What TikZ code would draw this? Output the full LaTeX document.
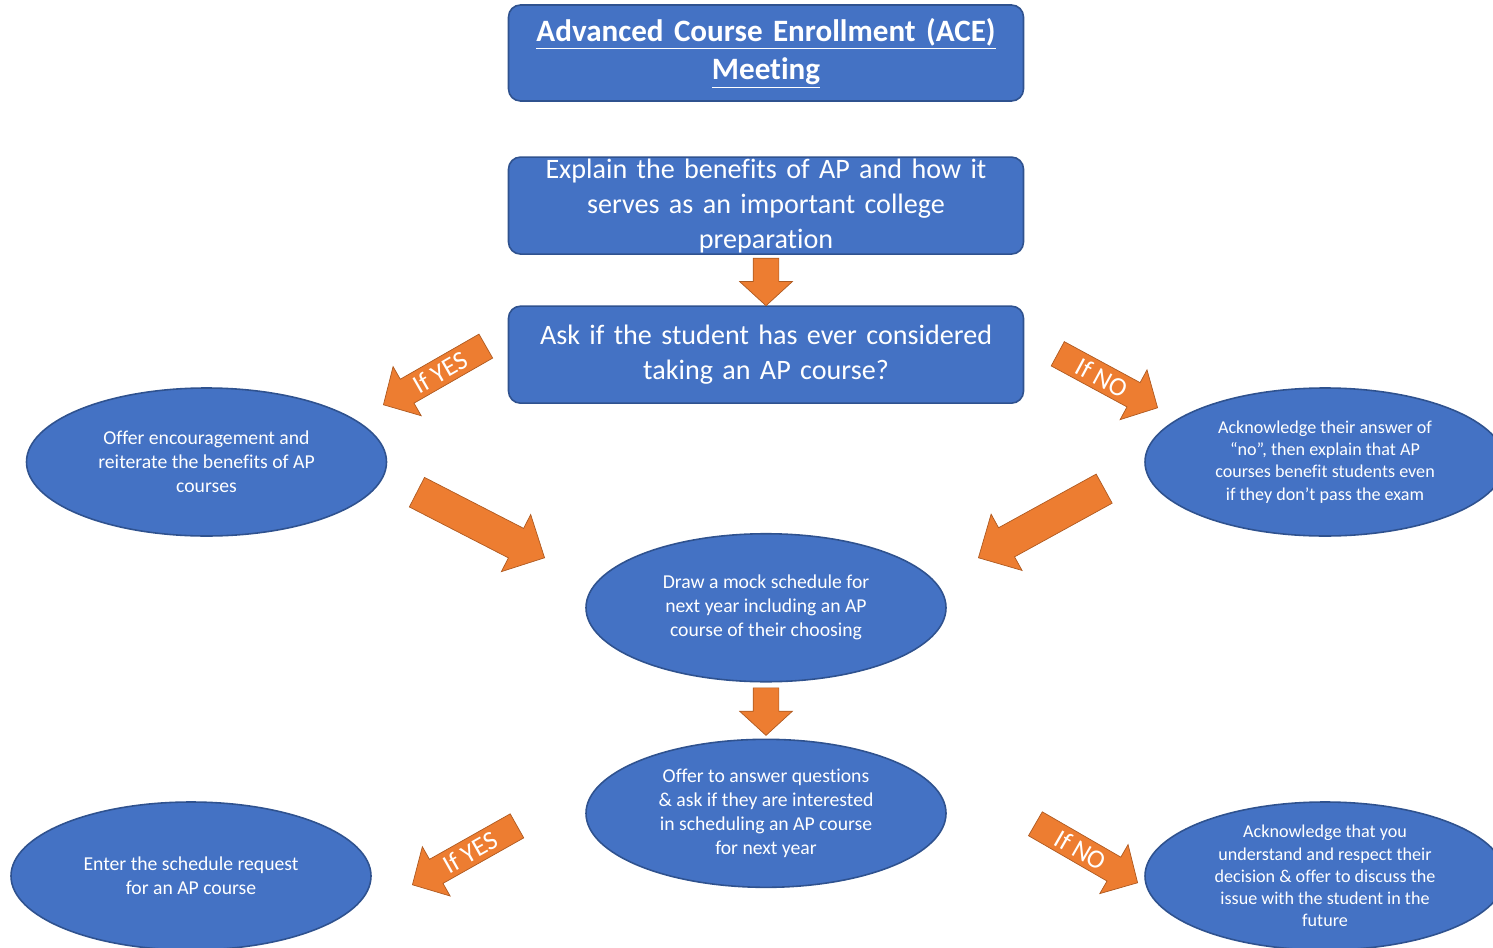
\documentclass[tikz,border=0pt]{standalone}
\usepackage{fontspec}
\setmainfont{Carlito}[Ligatures={NoCommon,NoRequired,NoContextual},Contextuals=NoAlternate,RawFeature={-liga;-clig;-calt}]
\usepackage{xcolor}
\usepackage{tikz}
\usetikzlibrary{shapes.geometric,shapes.arrows,positioning}

\definecolor{boxblue}{HTML}{4472C4}
\definecolor{boxline}{HTML}{2F528F}
\definecolor{arroworange}{HTML}{ED7D31}
\definecolor{arrowline}{HTML}{AE5A21}

\tikzstyle{box} = [rectangle, rounded corners=0.24cm, minimum width=10.3cm, minimum height=1.94cm, inner sep=0pt, text width=10cm, align=center, draw=boxline, line width=0.9pt, fill=boxblue, text=white, font=\fontsize{16}{19.9}\selectfont]
\tikzstyle{bubble} = [ellipse, minimum width=7.2cm, minimum height=2.96cm, inner sep=0pt, align=center, draw=boxline, line width=0.9pt, fill=boxblue, text=white, font=\fontsize{11.2}{13.7}\selectfont]
\tikzstyle{smallbubble} = [bubble, font=\fontsize{10.3}{12.6}\selectfont]
\tikzstyle{hint} = [single arrow, single arrow head extend=0.29cm, single arrow tip angle=92, minimum height=2.36cm, inner xsep=1pt, inner ysep=2.4pt, text height=10.5pt, text depth=0pt, draw=arrowline, line width=0.4pt, fill=arroworange, text=white, font=\fontsize{15}{17}\selectfont]
\tikzstyle{bigarrow} = [single arrow, single arrow head extend=0.31cm, single arrow tip angle=90, minimum height=2.87cm, inner xsep=0pt, inner ysep=0.325cm, draw=arrowline, line width=0.4pt, fill=arroworange]
\tikzstyle{downarrow} = [single arrow, shape border rotate=270, single arrow head extend=0.27cm, single arrow tip angle=95, minimum height=0.95cm, inner xsep=0.25cm, inner ysep=0pt, draw=arrowline, line width=0.4pt, fill=arroworange]

\begin{document}
\begin{tikzpicture}

    \useasboundingbox (0,0) rectangle (29.86,-18.94);

    % Boxes
    \node (title) [box, minimum height=1.92cm, font=\bfseries\fontsize{17.7}{21.6}\selectfont] at (15.32,-1.06) {\underline{Advanced Course Enrollment (ACE)}\\\underline{Meeting}};
    \node (expl) [box, minimum height=1.94cm, inner ysep=-3pt, below=1.09cm of title] {Explain the benefits of AP and how it\\serves as an important college\\preparation};
    \node (ask) [box, below=1.01cm of expl] {Ask if the student has ever considered\\taking an AP course?};

    % Bubbles
    \node (encourage) [bubble] at (4.13,-9.24) {Offer encouragement and\\reiterate the benefits of AP\\courses};
    \node (noanswer) [smallbubble] at (26.5,-9.24) {Acknowledge their answer of\\“no”, then explain that AP\\courses benefit students even\\if they don’t pass the exam};
    \node (mock) [bubble, below=2.58cm of ask] {Draw a mock schedule for\\next year including an AP\\course of their choosing};
    \node (offer) [bubble, below=1.12cm of mock] {Offer to answer questions\\\& ask if they are interested\\in scheduling an AP course\\for next year};
    \node (enter) [bubble] at (3.82,-17.52) {Enter the schedule request\\for an AP course};
    \node (respect) [smallbubble] at (26.5,-17.52) {Acknowledge that you\\understand and respect their\\decision \& offer to discuss the\\issue with the student in the\\future};

    % Arrows
    \node (down1) [downarrow, anchor=tail] at ([yshift=-0.06cm]expl.south) {};
    \node (down2) [downarrow, anchor=tail] at ([yshift=-0.1cm]mock.south) {};
    \node (yes1) [hint, shape border rotate=180, rotate=29.8, anchor=tip] at (7.66,-8.10) {If YES};
    \node (no1) [hint, minimum height=2.27cm, rotate=-28.4, anchor=tip] at (23.16,-8.16) {If NO};
    \node (join1) [bigarrow, rotate=-27.2, anchor=tip] at (10.9,-11.16) {};
    \node (join2) [bigarrow, shape border rotate=180, rotate=28.8, anchor=tip] at (19.56,-11.16) {};
    \node (yes2) [hint, minimum height=2.4cm, shape border rotate=180, rotate=29.4, anchor=tip] at (8.24,-17.7) {If YES};
    \node (no2) [hint, rotate=-30, anchor=tip] at (22.76,-17.66) {If NO};

\end{tikzpicture}
\end{document}
